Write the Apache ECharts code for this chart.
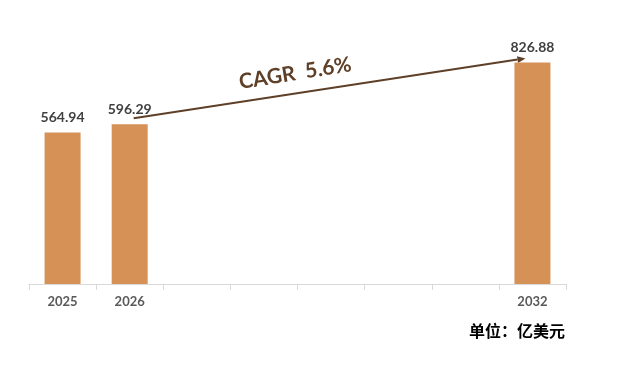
<!DOCTYPE html>
<html>
<head>
<meta charset="utf-8">
<script src="https://cdn.jsdelivr.net/npm/echarts@6/dist/echarts.min.js"></script>
<style>
  html, body { margin: 0; padding: 0; background: #fff; }
  #main { width: 622px; height: 370px; }
</style>
</head>
<body>
<div id="main"></div>
<script>
// chart data
const years = ['2025', '2026', '2027', '2028', '2029', '2030', '2031', '2032'];
const marketSize = [564.94, 596.29, null, null, null, null, null, 826.88];
const cagrText = 'CAGR  5.6%';
const unitText = '单位：亿美元';

const barColor = '#D69157';
const arrowColor = '#5E3F27';
const latin = 'Lato, "Noto Sans", sans-serif';

const chart = echarts.init(document.getElementById('main'));

const option = {
  backgroundColor: '#fff',
  animation: false,
  grid: { left: 29, right: 56, top: 16, bottom: 86 },
  xAxis: {
    type: 'category',
    data: years,
    axisLine: { lineStyle: { color: '#D9D9D9', width: 1 } },
    axisTick: { show: true, length: 6, lineStyle: { color: '#D9D9D9' } },
    axisLabel: {
      // only years that carry a value get a label
      formatter: (v, i) => (marketSize[i] == null ? '' : v),
      interval: 0,
      margin: 11,
      color: '#595959',
      fontFamily: latin,
      fontWeight: 'bold',
      fontSize: 13
    }
  },
  yAxis: {
    type: 'value',
    min: 0,
    max: 1000,
    show: false,
    splitLine: { show: false }
  },
  series: [{
    type: 'bar',
    data: marketSize,
    barWidth: 36,
    itemStyle: { color: barColor },
    label: {
      show: true,
      position: 'top',
      distance: 8,
      color: '#404040',
      fontFamily: latin,
      fontWeight: 'bold',
      fontSize: 14,
      formatter: p => p.value.toFixed(2)
    }
  }]
};

chart.setOption(option);

// CAGR arrow, anchored to the 2026 and 2032 bars
const p0 = chart.convertToPixel({ gridIndex: 0 }, [1, marketSize[1]]);
const p1 = chart.convertToPixel({ gridIndex: 0 }, [7, marketSize[7]]);
const x0 = p0[0] + 4, y0 = p0[1] - 6;
const x1 = p1[0] - 7, y1 = p1[1] - 4;
const ang = Math.atan2(y0 - y1, x1 - x0); // counter-clockwise rotation
const ux = Math.cos(ang), uy = -Math.sin(ang);
const head = 8, half = 3.5;
const bx = x1 - ux * head, by = y1 - uy * head;

// text sits a bit left of the middle, above the line
const t = 0.42;
const tx = x0 + (x1 - x0) * t - Math.sin(ang) * 20;
const ty = y0 + (y1 - y0) * t - Math.cos(ang) * 20;

chart.setOption({
  graphic: [
    {
      type: 'line',
      shape: { x1: x0, y1: y0, x2: bx, y2: by },
      style: { stroke: arrowColor, lineWidth: 2 }
    },
    {
      type: 'polygon',
      shape: { points: [[x1, y1], [bx - uy * half, by + ux * half], [bx + uy * half, by - ux * half]] },
      style: { fill: arrowColor }
    },
    {
      type: 'text',
      x: tx,
      y: ty,
      rotation: ang + 0.01,
      style: {
        text: cagrText,
        align: 'center',
        verticalAlign: 'middle',
        fill: arrowColor,
        font: 'bold 21px ' + latin
      }
    },
    {
      type: 'text',
      right: 57,
      top: 323,
      style: {
        text: unitText,
        fill: '#000',
        font: 'bold 16px "Noto Sans CJK SC", sans-serif'
      }
    }
  ]
});
</script>
</body>
</html>
